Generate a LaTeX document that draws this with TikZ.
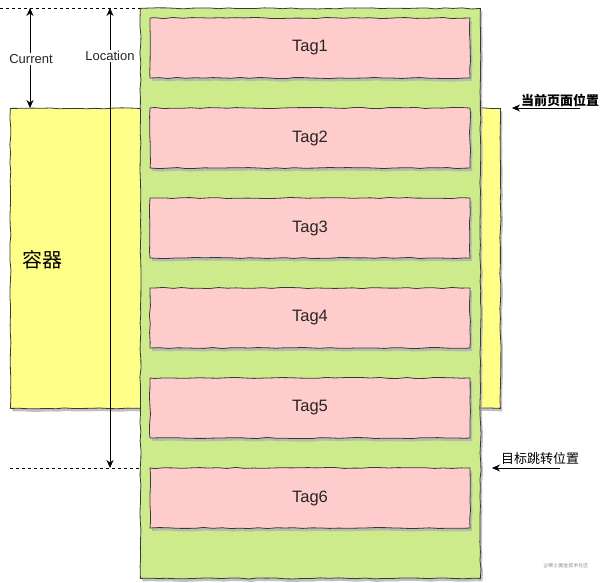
\documentclass[tikz,border=0pt]{standalone}
\usepackage{fontspec}
\setmainfont{Liberation Sans}
\newfontfamily\cjk{Noto Sans CJK SC}
\usetikzlibrary{arrows.meta,decorations.pathmorphing,shadows}
\definecolor{boxgreen}{HTML}{CDEB8B}
\definecolor{boxyellow}{HTML}{FFFF88}
\definecolor{boxpink}{HTML}{FFCCCC}
\definecolor{edge}{HTML}{36393D}
\begin{document}
\begin{tikzpicture}[x=1pt,y=-1pt,
  sketch/.style={draw=edge, line width=0.8pt,
    decorate, decoration={random steps,segment length=9pt,amplitude=0.6pt}},
  shadowed/.style={drop shadow={shadow xshift=2pt, shadow yshift=-3pt, fill=black!30, opacity=0.8}},
  tagbox/.style={sketch, shadowed, fill=boxpink, minimum width=320pt, minimum height=60pt,
    inner sep=0pt, font=\fontsize{16.5}{19}\selectfont, text=black!85},
  bigbox/.style={sketch, shadowed, inner sep=0pt},
  dim/.style={line width=0.8pt, draw=black},
  tip/.style={-{Stealth[length=8pt,width=7pt]}},
  guide/.style={dashed, line width=0.6pt, dash pattern=on 3pt off 3pt},
  lbl/.style={font=\fontsize{13}{15}\selectfont, fill=white, inner sep=1pt, text=black!85},
  cn/.style={font=\cjk\fontsize{13}{15}\selectfont, inner sep=1pt}]
\useasboundingbox (0,0) rectangle (600,582);
% container
\node[bigbox, fill=boxyellow, minimum width=490pt, minimum height=300pt, anchor=north west] (box) at (10,108) {};
\node[font=\cjk\fontsize{20}{24}\selectfont] (boxlbl) at (43,260) {容器};
% green panel
\node[bigbox, fill=boxgreen, minimum width=340pt, minimum height=570pt, anchor=north west] (panel) at (140,8) {};
% tags
\foreach \i/\y in {1/48,2/138,3/228,4/318,5/408,6/498}{
  \node[tagbox] (tag\i) at (310,\y) {Tag\i};
}
% guide lines
\coordinate (topL) at (0,8);
\coordinate (topR) at (140,8);
\coordinate (botL) at (10,468);
\coordinate (botR) at (140,468);
\draw[guide] (topL) -- (topR);
\draw[guide] (botL) -- (botR);
% Current arrow
\coordinate (curTop) at (30,8);
\coordinate (curBot) at (30,108);
\draw[dim, tip] (30,59) -- (curTop);
\draw[dim, tip] (30,59) -- (curBot);
\node[lbl] (curlbl) at (31,59) {Current};
% Location arrow
\coordinate (locTop) at (110,8);
\coordinate (locBot) at (110,468);
\draw[dim, tip] (110,60) -- (locTop);
\draw[dim, tip] (110,60) -- (locBot);
\node[lbl] (loclbl) at (110,56) {Location};
% right labels
\node[cn, font=\cjk\bfseries\fontsize{13}{15}\selectfont] (cur) at (560,100) {当前页面位置};
\coordinate (curS) at (580,108);
\coordinate (curE) at (512,108);
\draw[dim, tip] (curS) -- (curE);
\node[cn] (tgt) at (540,459) {目标跳转位置};
\coordinate (tgtS) at (560,468);
\coordinate (tgtE) at (492,468);
\draw[dim, tip] (tgtS) -- (tgtE);
% watermark
\node[font=\cjk\fontsize{5}{6}\selectfont, text=black!45] (wm) at (566,566) {@稀土掘金技术社区};
\end{tikzpicture}
\end{document}
